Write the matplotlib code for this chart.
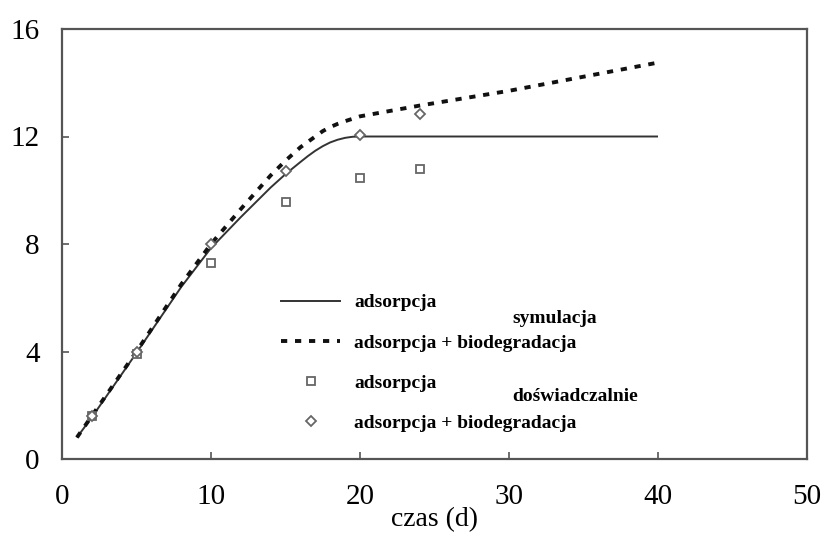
import matplotlib
matplotlib.use("Agg")
import matplotlib.pyplot as plt
from matplotlib.lines import Line2D

# Simulation curves
sim_x_ads = [1, 2, 5, 8, 10, 12, 14, 15, 16, 16.5, 17, 17.5, 18, 18.5, 19, 19.5, 20, 40]
sim_y_ads = [0.8, 1.55, 3.95, 6.4, 7.85, 9.0, 10.1, 10.6, 11.05, 11.27, 11.47, 11.64, 11.78, 11.88, 11.95, 11.99, 12.0, 12.0]
sim_x_bio = [1, 2, 5, 8, 10, 12, 14, 15, 16, 17, 17.5, 18, 18.5, 19, 20, 24, 30, 40]
sim_y_bio = [0.8, 1.6, 4.0, 6.5, 8.0, 9.3, 10.55, 11.1, 11.6, 12.0, 12.2, 12.35, 12.47, 12.57, 12.75, 13.15, 13.7, 14.75]

# Experimental points
exp_x = [2, 5, 10, 15, 20, 24]
exp_ads = [1.6, 3.9, 7.3, 9.55, 10.45, 10.8]
exp_bio = [1.6, 4.0, 8.0, 10.7, 12.05, 12.85]

xticks = [0, 10, 20, 30, 40, 50]
yticks = [0, 4, 8, 12, 16]

plt.rcParams['font.family'] = ['Liberation Serif', 'DejaVu Serif']

fig = plt.figure(figsize=(8.29, 5.44), dpi=100)
ax = fig.add_axes([62/829, 1-459/544, 745/829, 430/544])

dash = (0, (1.6, 2.0))
ax.plot(sim_x_ads, sim_y_ads, color='#333333', lw=1.4, solid_capstyle='butt')
ax.plot(sim_x_bio, sim_y_bio, color='#111111', lw=2.8, linestyle=dash)
ax.plot(exp_x, exp_ads, linestyle='none', marker='s', ms=6, mfc='white', mec='#666666', mew=1.3)
ax.plot(exp_x, exp_bio, linestyle='none', marker='D', ms=5.5, mfc='white', mec='#666666', mew=1.3)

ax.set_xlim(0, 50)
ax.set_ylim(0, 16)
ax.set_xticks(xticks)
ax.set_yticks(yticks)
ax.tick_params(direction='in', length=5, width=1.2, color='#555555', labelsize=21)
ax.tick_params(axis='x', pad=18)
ax.tick_params(axis='y', pad=16)
for s in ax.spines.values():
    s.set_color('#555555')
    s.set_linewidth(1.6)
ax.set_xlabel('czas (d)', fontsize=20, labelpad=-2)

handles = [
    Line2D([], [], color='#333333', lw=1.4),
    Line2D([], [], color='#111111', lw=2.8, linestyle=dash),
    Line2D([], [], linestyle='none', marker='s', ms=6, mfc='white', mec='#666666', mew=1.3),
    Line2D([], [], linestyle='none', marker='D', ms=5.5, mfc='white', mec='#666666', mew=1.3),
]
labels = ['adsorpcja', 'adsorpcja + biodegradacja', 'adsorpcja', 'adsorpcja + biodegradacja']
leg = ax.legend(handles, labels, loc='upper left', bbox_to_anchor=(0.271, 0.425),
                frameon=False, prop={'size': 14, 'weight': 'bold'},
                handlelength=3.0, labelspacing=1.16, handletextpad=0.75)
ax.text(0.604, 0.327, 'symulacja', transform=ax.transAxes, fontsize=14,
        fontweight='bold', va='center')
ax.text(0.604, 0.145, 'doświadczalnie', transform=ax.transAxes, fontsize=14,
        fontweight='bold', va='center')

fig.savefig('out.png', dpi=100)
